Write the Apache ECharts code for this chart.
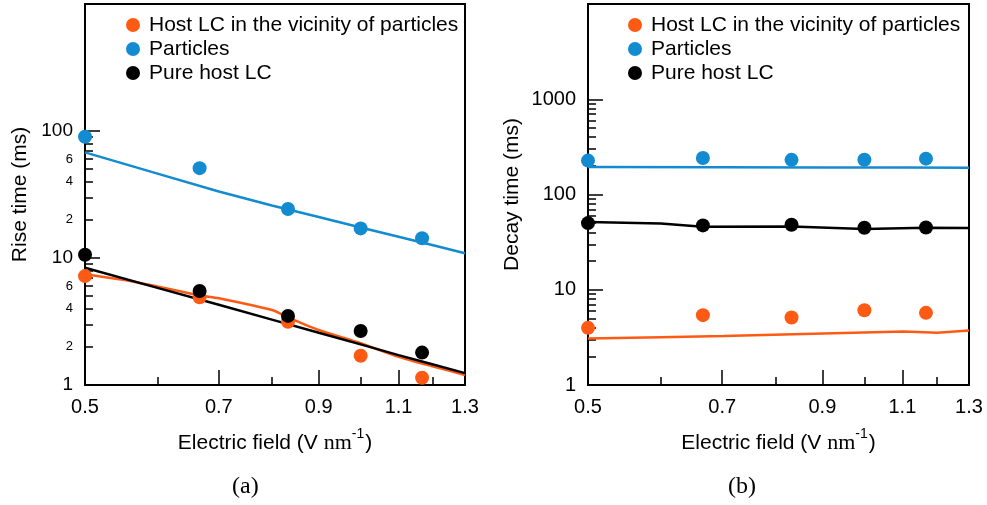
<!DOCTYPE html>
<html>
<head>
<meta charset="utf-8">
<script src="https://cdn.jsdelivr.net/npm/echarts@6/dist/echarts.min.js"></script>
<style>
html,body{margin:0;padding:0;background:#fff;}
#chart{width:987px;height:505px;}
</style>
</head>
<body>
<div id="chart"></div>
<script>
// ---------- data ----------
const seriesNames = ['Host LC in the vicinity of particles', 'Particles', 'Pure host LC'];
const xPoints = [0.5, 0.667, 0.833, 1.0, 1.167];

// (a) rise time (ms)
const riseHost = [7.2, 4.9, 3.15, 1.7, 1.14];
const riseParticles = [90, 51, 24.3, 17.1, 14.3];
const risePure = [10.6, 5.5, 3.5, 2.66, 1.8];

const riseHostFitX = [0.5, 0.565, 0.667, 0.7, 0.8, 0.833, 0.9, 1.0, 1.1, 1.2, 1.3];
const riseHostFit = [7.44, 6.51, 5.09, 4.82, 3.89, 3.41, 2.71, 2.13, 1.67, 1.4, 1.2];
const riseParticlesFitX = [0.5, 0.6, 0.7, 0.8, 0.9, 1.0, 1.1, 1.2, 1.3];
const riseParticlesFit = [67.9, 46.2, 33.4, 25.9, 21.0, 17.4, 14.7, 12.6, 10.9];
const risePureFitX = [0.5, 0.6, 0.7, 0.8, 0.9, 1.0, 1.1, 1.2, 1.3];
const risePureFit = [8.39, 5.82, 4.28, 3.27, 2.58, 2.09, 1.72, 1.45, 1.24];

// (b) decay time (ms)
const decayHost = [3.98, 5.41, 5.11, 6.1, 5.72];
const decayParticles = [227, 242, 231, 232, 238];
const decayPure = [50.1, 47.4, 48.2, 44.8, 45.1];

const decayHostFitX = [0.5, 0.6, 0.703, 0.902, 1.104, 1.2, 1.3];
const decayHostFit = [3.08, 3.18, 3.26, 3.48, 3.65, 3.53, 3.74];
const decayParticlesFitX = [0.5, 0.7, 0.9, 1.1, 1.3];
const decayParticlesFit = [194, 193, 192, 192, 191];
const decayPureFitX = [0.5, 0.6, 0.667, 0.833, 1.0, 1.167, 1.3];
const decayPureFit = [51.3, 49.6, 45.8, 46.2, 43.5, 44.8, 44.4];

// ticks / labels
const xLabelValues = [0.5, 0.7, 0.9, 1.1, 1.3];
const xMajorTicks = [0.7, 0.9, 1.1];
const xMinorTicks = [0.6, 0.8, 1.0, 1.2];
const riseMajor = [1, 10, 100];
const riseMinorTicks = [2, 3, 4, 5, 6, 7, 8, 9, 20, 30, 40, 50, 60, 70, 80, 90];
const riseMinorLabels = [2, 4, 6, 20, 40, 60];
const decayMajor = [1, 10, 100, 1000];
const decayMinorTicks = [2, 3, 4, 5, 6, 7, 8, 9, 20, 30, 40, 50, 60, 70, 80, 90, 200, 300, 400, 500, 600, 700, 800, 900];

// ---------- style ----------
const C_ORANGE = '#FF5A14';
const C_BLUE = '#138BD0';
const C_BLACK = '#000000';
const colors = [C_ORANGE, C_BLUE, C_BLACK];
const FONT = '"Liberation Sans", Arial, sans-serif';
const SERIF = '"Liberation Serif", "Times New Roman", serif';

const zip = (xs, ys) => xs.map((x, i) => [x, ys[i]]);

function xAxes(gridIndex) {
  return [
    {
      type: 'log', gridIndex, min: 0.5, max: 1.3, position: 'bottom',
      name: '{a|Electric field (V }{n|nm}{s|-1}{a|)}',
      nameLocation: 'middle', nameGap: 45,
      nameTextStyle: {
        rich: {
          a: { fontFamily: FONT, fontSize: 21, color: '#000', verticalAlign: 'bottom', lineHeight: 24 },
          n: { fontFamily: SERIF, fontSize: 22, color: '#000', verticalAlign: 'bottom', lineHeight: 24 },
          s: { fontFamily: FONT, fontSize: 14, color: '#000', verticalAlign: 'bottom', lineHeight: 24, padding: [0, 1, 13, 0] }
        }
      },
      axisLine: { show: true, lineStyle: { color: '#000', width: 2 } },
      axisTick: { show: true, inside: true, length: 15, customValues: xMajorTicks, lineStyle: { color: '#000', width: 1.5 } },
      axisLabel: { customValues: xLabelValues, formatter: v => Number(v).toFixed(1), fontFamily: FONT, fontSize: 20, color: '#000', margin: 12 },
      splitLine: { show: false }, minorTick: { show: false }
    },
    {
      type: 'log', gridIndex, min: 0.5, max: 1.3, position: 'bottom',
      axisLine: { show: false },
      axisTick: { show: true, inside: true, length: 8, customValues: xMinorTicks, lineStyle: { color: '#000', width: 1.5 } },
      axisLabel: { show: false },
      splitLine: { show: false }, minorTick: { show: false }
    }
  ];
}

function yAxes(gridIndex, max, major, minorTicks, minorLabels, name, nameGap, majorFont) {
  return [
    {
      type: 'log', gridIndex, min: 1, max, position: 'left',
      name, nameLocation: 'middle', nameGap,
      nameTextStyle: { fontFamily: FONT, fontSize: 21, color: '#000' },
      axisLine: { show: true, lineStyle: { color: '#000', width: 2 } },
      axisTick: { show: true, inside: true, length: 15, customValues: major, lineStyle: { color: '#000', width: 1.5 } },
      axisLabel: { customValues: major, formatter: v => String(Math.round(v)), fontFamily: FONT, fontSize: majorFont, color: '#000', margin: 12 },
      splitLine: { show: false }, minorTick: { show: false }
    },
    {
      type: 'log', gridIndex, min: 1, max, position: 'left',
      axisLine: { show: false },
      axisTick: { show: true, inside: true, length: 8, customValues: minorTicks, lineStyle: { color: '#000', width: 1.5 } },
      axisLabel: minorLabels.length ? {
        show: true, customValues: minorLabels,
        formatter: v => { let n = Math.round(v); while (n >= 10) n = n / 10; return String(Math.round(n)); },
        fontFamily: FONT, fontSize: 13, color: '#000', margin: 12
      } : { show: false },
      splitLine: { show: false }, minorTick: { show: false }
    }
  ];
}

function lineSeries(name, xi, yi, data, color, smooth) {
  return {
    name, type: 'line', xAxisIndex: xi, yAxisIndex: yi, data,
    showSymbol: false, symbol: 'none', smooth: smooth || false, z: 2,
    lineStyle: { color, width: 2.5 }, itemStyle: { color }, silent: true
  };
}
function scatterSeries(name, xi, yi, data, color) {
  return {
    name, type: 'scatter', xAxisIndex: xi, yAxisIndex: yi, data,
    symbol: 'circle', symbolSize: 14, z: 5,
    itemStyle: { color, opacity: 1 }
  };
}

const legendCommon = {
  orient: 'vertical', top: 8, itemWidth: 22, itemHeight: 14, itemGap: 0, icon: 'circle',
  data: seriesNames,
  textStyle: { fontFamily: FONT, fontSize: 21, color: '#000', lineHeight: 24 },
  selectedMode: false
};

const option = {
  animation: false,
  color: colors,
  grid: [
    { left: 85, top: 4, width: 380, height: 381, show: true, borderColor: '#000', borderWidth: 2, backgroundColor: 'transparent' },
    { left: 588, top: 4, width: 381, height: 381, show: true, borderColor: '#000', borderWidth: 2, backgroundColor: 'transparent' }
  ],
  legend: [
    Object.assign({}, legendCommon, { left: 121 }),
    Object.assign({}, legendCommon, { left: 623 })
  ],
  xAxis: [...xAxes(0), ...xAxes(1)],
  yAxis: [
    ...yAxes(0, 1000, riseMajor, riseMinorTicks, riseMinorLabels, 'Rise time (ms)', 54, 19),
    ...yAxes(1, 10000, decayMajor, decayMinorTicks, [], 'Decay time (ms)', 65, 20)
  ],
  graphic: [
    { type: 'text', left: 232, top: 475, style: { text: '(a)', font: '24px ' + SERIF, fill: '#000' } },
    { type: 'text', left: 728, top: 475, style: { text: '(b)', font: '24px ' + SERIF, fill: '#000' } }
  ],
  series: [
    lineSeries('fitA0', 0, 0, zip(riseHostFitX, riseHostFit), C_ORANGE, 0.25),
    lineSeries('fitA1', 0, 0, zip(riseParticlesFitX, riseParticlesFit), C_BLUE),
    lineSeries('fitA2', 0, 0, zip(risePureFitX, risePureFit), C_BLACK),
    scatterSeries(seriesNames[0], 0, 0, zip(xPoints, riseHost), C_ORANGE),
    scatterSeries(seriesNames[1], 0, 0, zip(xPoints, riseParticles), C_BLUE),
    scatterSeries(seriesNames[2], 0, 0, zip(xPoints, risePure), C_BLACK),
    lineSeries('fitB0', 2, 2, zip(decayHostFitX, decayHostFit), C_ORANGE),
    lineSeries('fitB1', 2, 2, zip(decayParticlesFitX, decayParticlesFit), C_BLUE),
    lineSeries('fitB2', 2, 2, zip(decayPureFitX, decayPureFit), C_BLACK),
    scatterSeries(seriesNames[0], 2, 2, zip(xPoints, decayHost), C_ORANGE),
    scatterSeries(seriesNames[1], 2, 2, zip(xPoints, decayParticles), C_BLUE),
    scatterSeries(seriesNames[2], 2, 2, zip(xPoints, decayPure), C_BLACK)
  ]
};

const chart = echarts.init(document.getElementById('chart'), null, { renderer: 'canvas' });
chart.setOption(option);
</script>
</body>
</html>
